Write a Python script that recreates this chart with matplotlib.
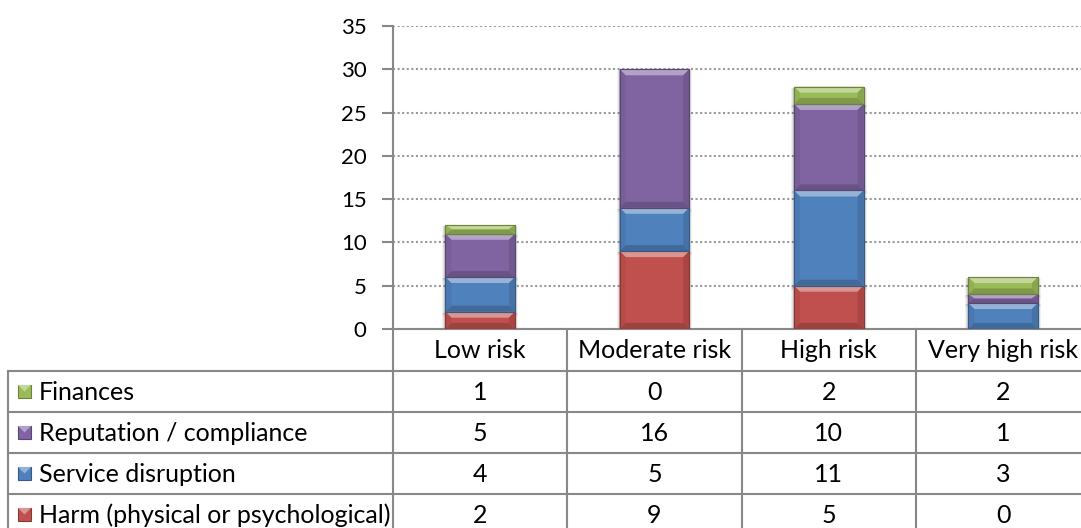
import numpy as np
import matplotlib
matplotlib.use("Agg")
from matplotlib import pyplot as plt
from matplotlib.patches import Polygon, Rectangle
import matplotlib.colors as mcolors

plt.rcParams['font.family'] = ['Lato', 'DejaVu Sans']

W, H, DPI = 1081, 528, 100

categories = ['Low risk', 'Moderate risk', 'High risk', 'Very high risk']
# stacking order, bottom to top
series_names = ['Harm (physical or psychological)', 'Service disruption',
                'Reputation / compliance', 'Finances']
harm = [2, 9, 5, 0]
service = [4, 5, 11, 3]
reputation = [5, 16, 10, 1]
finances = [1, 0, 2, 2]
series_values = [harm, service, reputation, finances]
colors = ['#C0504D', '#4F81BD', '#8064A2', '#9BBB59']
yticks = [0, 5, 10, 15, 20, 25, 30, 35]

GRAY = '#888888'
FS = 18      # table text
FS_TICK = 16

# layout in pixels
PX_LEFT, PX_CAT = 393, 174.3
PX_TOP, PX_ZERO = 26, 329
ROW_H = 41
TABLE_TOP = 371
LABEL_LEFT = 8


def lighten(c, f):
    r = np.array(mcolors.to_rgb(c))
    return tuple(r + (1 - r) * f)


def darken(c, f):
    r = np.array(mcolors.to_rgb(c))
    return tuple(r * (1 - f))


fig = plt.figure(figsize=(W / DPI, H / DPI), dpi=DPI)

# full-figure overlay for the data table
tab = fig.add_axes([0, 0, 1, 1], zorder=0)
tab.set_xlim(0, W)
tab.set_ylim(H, 0)
tab.axis('off')

ax = fig.add_axes([PX_LEFT / W, 1 - PX_ZERO / H,
                   len(categories) * PX_CAT / W, (PX_ZERO - PX_TOP) / H], zorder=1)
ax.patch.set_alpha(0)
x = np.arange(len(categories))
ax.set_xlim(-0.5, len(categories) - 0.5)
ax.set_ylim(0, 35)
ax.set_yticks(yticks)
ax.set_xticks([])
ax.tick_params(axis='y', length=8, width=1.5, color=GRAY, pad=11, labelsize=FS_TICK)
for s in ['top', 'right']:
    ax.spines[s].set_visible(False)
ax.spines['left'].set_color(GRAY)
ax.spines['left'].set_linewidth(1.5)
ax.spines['bottom'].set_color(GRAY)
ax.spines['bottom'].set_linewidth(1.5)
ax.yaxis.grid(True, linestyle=(0, (1, 1.2)), color='#999999', linewidth=1.5)
ax.set_axisbelow(True)

# pixel -> data sizes for the bevel
px_x = 1 / PX_CAT
px_y = 35 / (PX_ZERO - PX_TOP)
bw = 0.4
bottoms = np.zeros(len(categories))
for vals, c in zip(series_values, colors):
    vals = np.array(vals, dtype=float)
    bars = ax.bar(x, vals, bw, bottom=bottoms, color=c, edgecolor=darken(c, 0.25),
                  linewidth=0.8, zorder=3)
    for rect in bars:
        h = rect.get_height()
        if h <= 0:
            continue
        x0, y0 = rect.get_x(), rect.get_y()
        x1, y1 = x0 + rect.get_width(), y0 + h
        bx = 6 * px_x
        by = min(6 * px_y, h / 2.2)
        # soft shadow
        for k, a in ((3, 0.05), (2, 0.07), (1, 0.09)):
            ax.add_patch(Rectangle((x0 - k * px_x, y0 - (k + 1) * px_y),
                                   x1 - x0 + 2 * k * px_x, h + k * px_y,
                                   color='#000000', alpha=a, zorder=2, linewidth=0))
        top = Polygon([(x0, y1), (x1, y1), (x1 - bx, y1 - by), (x0 + bx, y1 - by)],
                      closed=True, facecolor=lighten(c, 0.4), edgecolor='none', zorder=4)
        bot = Polygon([(x0, y0), (x1, y0), (x1 - bx, y0 + by), (x0 + bx, y0 + by)],
                      closed=True, facecolor=darken(c, 0.18), edgecolor='none', zorder=4)
        left = Polygon([(x0, y0), (x0, y1), (x0 + bx, y1 - by), (x0 + bx, y0 + by)],
                       closed=True, facecolor=darken(c, 0.06), edgecolor='none', zorder=4)
        right = Polygon([(x1, y0), (x1, y1), (x1 - bx, y1 - by), (x1 - bx, y0 + by)],
                        closed=True, facecolor=darken(c, 0.12), edgecolor='none', zorder=4)
        for p in (top, bot, left, right):
            ax.add_patch(p)
        ax.add_patch(Rectangle((x0, y0), x1 - x0, h, facecolor='none',
                               edgecolor=darken(c, 0.3), linewidth=0.8, zorder=5))
    bottoms += vals

# ---- data table ----
n_rows = len(series_names)
col_edges = [PX_LEFT + i * PX_CAT for i in range(len(categories) + 1)]
lw = 1.5
for xe in col_edges:
    tab.plot([xe, xe], [PX_ZERO, H + 5], color=GRAY, lw=lw)
for i, cat in enumerate(categories):
    tab.text((col_edges[i] + col_edges[i + 1]) / 2, (PX_ZERO + TABLE_TOP) / 2 + 1, cat,
             ha='center', va='center', fontsize=FS)
for r in range(n_rows + 1):
    yl = TABLE_TOP + r * ROW_H
    tab.plot([LABEL_LEFT, col_edges[-1]], [yl, yl], color=GRAY, lw=lw)
tab.plot([LABEL_LEFT, LABEL_LEFT], [TABLE_TOP, H + 5], color=GRAY, lw=lw)

# rows top to bottom: reverse of stacking order
for r, k in enumerate(reversed(range(n_rows))):
    yc = TABLE_TOP + r * ROW_H + ROW_H / 2
    c = colors[k]
    tab.add_patch(Rectangle((18, yc - 6.5), 13, 13, facecolor=c,
                            edgecolor=darken(c, 0.3), linewidth=0.8))
    tab.add_patch(Polygon([(18, yc - 6.5), (31, yc - 6.5), (24.5, yc)], closed=True,
                          facecolor=lighten(c, 0.4), edgecolor='none'))
    tab.text(39, yc + 1, series_names[k], ha='left', va='center', fontsize=FS)
    for i, v in enumerate(series_values[k]):
        tab.text((col_edges[i] + col_edges[i + 1]) / 2, yc + 1, str(v),
                 ha='center', va='center', fontsize=FS)

fig.savefig('out.png', dpi=DPI)
